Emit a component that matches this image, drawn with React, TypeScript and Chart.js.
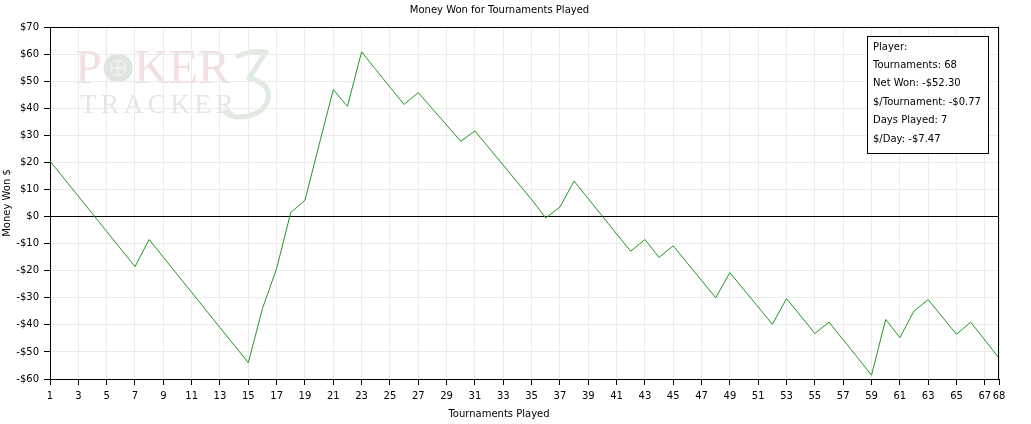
import React, { useEffect, useRef } from "react";
import { Chart, registerables } from "chart.js";

Chart.register(...registerables);

const tournaments = [
  1, 2, 3, 4, 5, 6, 7, 8, 9, 10, 11, 12, 13, 14, 15, 16, 17, 18, 19, 20,
  21, 22, 23, 24, 25, 26, 27, 28, 29, 30, 31, 32, 33, 34, 35, 36, 37, 38, 39, 40,
  41, 42, 43, 44, 45, 46, 47, 48, 49, 50, 51, 52, 53, 54, 55, 56, 57, 58, 59, 60,
  61, 62, 63, 64, 65, 66, 67, 68,
];

const moneyWon = [
  20.5, 14.0, 7.5, 1.0, -5.5, -12.0, -18.5, -8.5, -15.0, -21.5,
  -28.0, -34.5, -41.0, -47.5, -54.0, -34.0, -19.2, 1.5, 6.0, 26.5,
  46.9, 40.7, 60.8, 54.3, 47.8, 41.4, 45.8, 39.8, 33.8, 27.8,
  31.6, 25.3, 19.0, 12.6, 6.3, -0.5, 3.5, 13.1, 6.6, 0.1,
  -6.4, -12.8, -8.5, -15.1, -10.8, -17.2, -23.6, -30.0, -20.7, -27.1,
  -33.4, -39.8, -30.3, -36.7, -43.2, -39.0, -45.5, -52.0, -58.6, -38.0,
  -44.7, -34.9, -30.7, -37.1, -43.5, -39.0, -45.6, -52.3,
];

const xTickValues = [
  1, 3, 5, 7, 9, 11, 13, 15, 17, 19, 21, 23, 25, 27, 29, 31, 33, 35, 37, 39,
  41, 43, 45, 47, 49, 51, 53, 55, 57, 59, 61, 63, 65, 67, 68,
];

const yMin = -60;
const yMax = 70;
const yStep = 10;

const titleText = "Money Won for Tournaments Played";
const xTitle = "Tournaments Played";
const yTitle = "Money Won $";

const statsLines = [
  "Player:",
  "Tournaments: 68",
  "Net Won: -$52.30",
  "$/Tournament: -$0.77",
  "Days Played: 7",
  "$/Day: -$7.47",
];

const FONT = "DejaVu Sans";
const LINE_COLOR = "#1f9a1f";
const GRID_COLOR = "#ebebeb";

const backgroundPlugin = {
  id: "bgWatermark",
  beforeDraw(chart: any) {
    const ctx = chart.ctx;
    ctx.save();
    ctx.fillStyle = "#ffffff";
    ctx.fillRect(0, 0, chart.width, chart.height);

    // Faint "POKER 3 TRACKER" watermark
    // stylised "3"
    ctx.strokeStyle = "#e1eae1";
    ctx.lineWidth = 5;
    ctx.lineCap = "round";
    ctx.lineJoin = "round";
    ctx.beginPath();
    ctx.moveTo(238, 56);
    ctx.quadraticCurveTo(252, 50, 266, 52);
    ctx.lineTo(249, 78);
    ctx.quadraticCurveTo(272, 84, 268, 100);
    ctx.quadraticCurveTo(262, 116, 240, 117);
    ctx.quadraticCurveTo(230, 117, 225, 112);
    ctx.stroke();

    ctx.textBaseline = "alphabetic";
    ctx.font = '48px "Liberation Serif"';
    ctx.fillStyle = "#f2e0e0";
    ctx.fillText("P", 75, 83);
    ctx.fillText("KER", 134, 83);

    // chip in place of O
    ctx.beginPath();
    ctx.arc(118, 68, 14.5, 0, Math.PI * 2);
    ctx.fillStyle = "#dfe5df";
    ctx.fill();
    ctx.beginPath();
    ctx.arc(118, 68, 8.5, 0, Math.PI * 2);
    ctx.fillStyle = "#edf0ed";
    ctx.fill();
    ctx.fillStyle = "#dfe5df";
    [[-3.5, -3.5], [3.5, -3.5], [-3.5, 3.5], [3.5, 3.5]].forEach(([dx, dy]) => {
      ctx.beginPath();
      ctx.arc(118 + dx, 68 + dy, 2.6, 0, Math.PI * 2);
      ctx.fill();
    });

    ctx.font = '27px "Liberation Serif"';
    ctx.fillStyle = "#e5e5e5";
    const word = "TRACKER";
    let x = 80;
    for (const ch of word) {
      ctx.fillText(ch, x, 113);
      x += ctx.measureText(ch).width + 4.6;
    }
    ctx.restore();
  },
  afterDraw(chart: any) {
    const ctx = chart.ctx;
    const a = chart.chartArea;
    ctx.save();
    ctx.strokeStyle = "#000";
    ctx.lineWidth = 1;
    const top = Math.round(a.top) + 0.5;
    const right = Math.round(a.right) - 0.5;
    ctx.beginPath();
    ctx.moveTo(Math.round(a.left), top);
    ctx.lineTo(right + 0.5, top);
    ctx.moveTo(right, top);
    ctx.lineTo(right, Math.round(a.bottom));
    ctx.stroke();

    // x-axis title, centred on the whole picture
    ctx.fillStyle = "#000";
    ctx.font = `10px "${FONT}"`;
    ctx.textAlign = "center";
    ctx.textBaseline = "middle";
    ctx.fillText(xTitle, 499, 414);

    // stats box
    ctx.fillStyle = "#fff";
    ctx.fillRect(867, 36, 121, 117);
    ctx.strokeRect(867.5, 36.5, 121, 117);
    ctx.fillStyle = "#000";
    ctx.textAlign = "left";
    statsLines.forEach((line, i) => {
      ctx.fillText(line, 873, 47 + i * 18.4);
    });
    ctx.restore();
  },
};

export default function App() {
  const canvasRef = useRef<HTMLCanvasElement | null>(null);

  useEffect(() => {
    document.body.style.margin = "0";
    const canvas = canvasRef.current;
    if (!canvas) return;

    Chart.defaults.color = "#000";
    Chart.defaults.font.family = FONT;
    Chart.defaults.font.size = 10;

    const points = tournaments.map((t, i) => ({ x: t, y: moneyWon[i] }));

    const chart = new Chart(canvas, {
      type: "line",
      data: {
        datasets: [
          {
            label: "Money Won",
            data: points,
            borderColor: LINE_COLOR,
            borderWidth: 1,
            pointRadius: 0,
            tension: 0,
            fill: false,
          },
        ],
      },
      options: {
        responsive: false,
        animation: false,
        devicePixelRatio: 1,
        layout: { padding: { left: 0, right: 32, top: 0, bottom: 0 } },
        plugins: {
          legend: { display: false },
          tooltip: { enabled: false },
          title: {
            display: true,
            text: titleText,
            color: "#000",
            font: { family: FONT, size: 10, weight: "normal" },
            padding: { top: 4, bottom: 11 },
          },
        },
        scales: {
          x: {
            type: "linear",
            min: 1,
            max: 68,
            afterBuildTicks: (scale: any) => {
              scale.ticks = xTickValues.map((v) => ({ value: v }));
            },
            afterFit: (scale: any) => {
              scale.height = 45;
            },
            grid: {
              color: GRID_COLOR,
              tickColor: "#000",
              tickLength: 6,
              lineWidth: 1,
            },
            border: { color: "#000", width: 1 },
            ticks: {
              autoSkip: false,
              maxRotation: 0,
              padding: 5,
              color: "#000",
              font: { family: FONT, size: 10 },
              callback: (v: any) => String(v),
            },
            title: { display: false, text: xTitle },
          },
          y: {
            type: "linear",
            min: yMin,
            max: yMax,
            afterFit: (scale: any) => {
              scale.width = 50;
            },
            grid: {
              color: (c: any) =>
                c.tick && c.tick.value === 0 ? "#000" : GRID_COLOR,
              tickColor: "#000",
              tickLength: 6,
              lineWidth: 1,
            },
            border: { color: "#000", width: 1 },
            ticks: {
              stepSize: yStep,
              padding: 5,
              color: "#000",
              font: { family: FONT, size: 10 },
              callback: (v: any) => (v < 0 ? `-$${-v}` : `$${v}`),
            },
            title: {
              display: true,
              text: yTitle,
              color: "#000",
              font: { family: FONT, size: 10 },
              padding: { top: 1, bottom: 0 },
            },
          },
        },
      },
      plugins: [backgroundPlugin],
    } as any);

    return () => {
      chart.destroy();
    };
  }, []);

  return (
    <div style={{ width: 1031, height: 424 }}>
      <canvas
        ref={canvasRef}
        width={1031}
        height={424}
        style={{ display: "block", width: 1031, height: 424 }}
      />
    </div>
  );
}
